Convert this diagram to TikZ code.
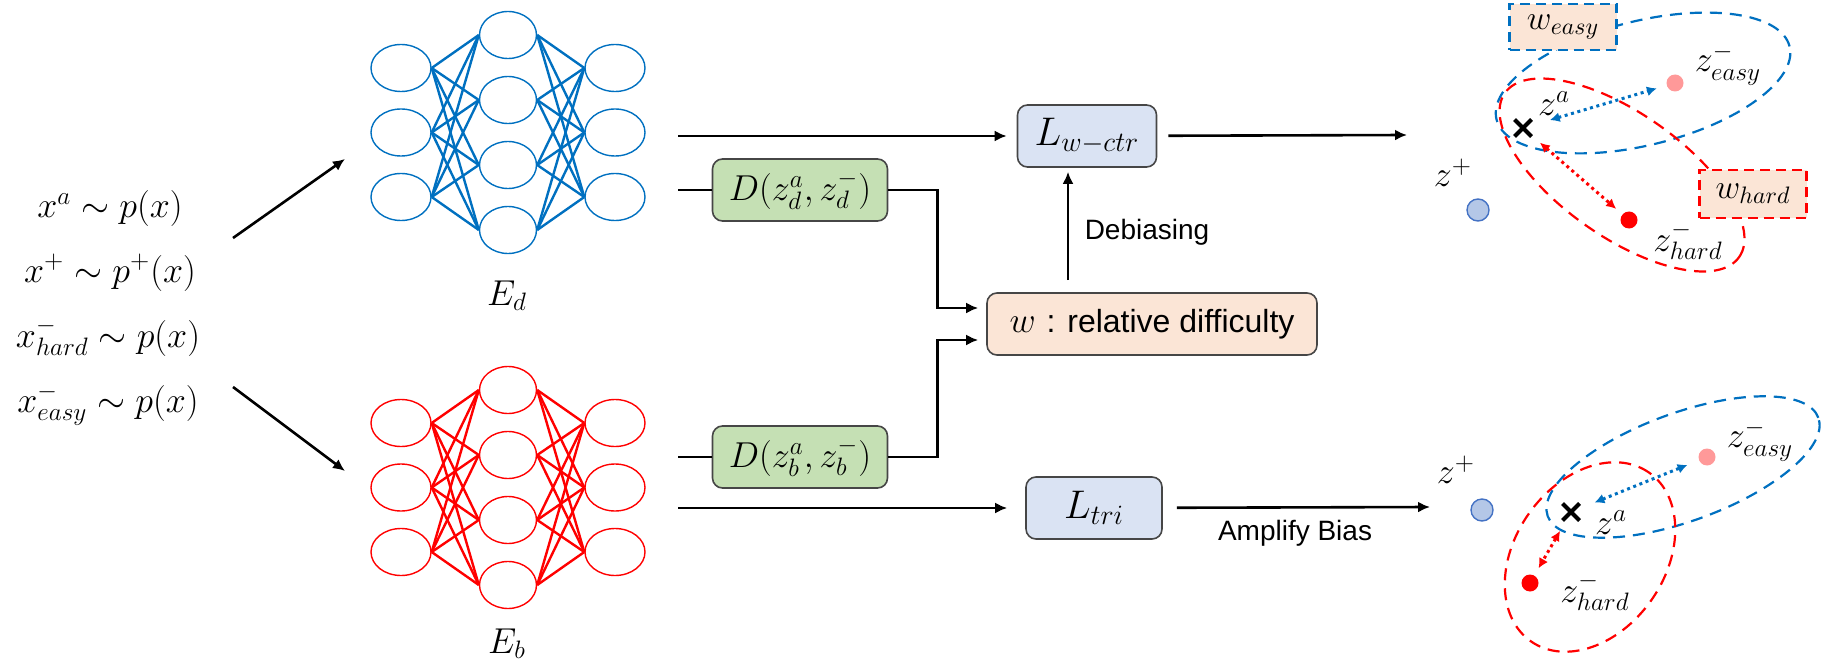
\RequirePackage{fix-cm}
\documentclass[tikz,border=0pt]{standalone}
\usepackage{fontspec}
\newfontfamily\arialfont{Liberation Sans}
\usepackage{tikz}
\usetikzlibrary{arrows.meta,shapes.geometric,shapes.misc}

\definecolor{nnblue}{RGB}{0,112,192}
\definecolor{nnred}{RGB}{255,0,0}
\definecolor{boxline}{RGB}{70,70,70}
\definecolor{greenfill}{RGB}{197,224,180}
\definecolor{bluefill}{RGB}{218,227,243}
\definecolor{peachfill}{RGB}{251,229,214}
\definecolor{posfill}{RGB}{180,199,231}
\definecolor{posline}{RGB}{68,114,196}
\definecolor{easyfill}{RGB}{255,153,153}

\begin{document}
\begin{tikzpicture}[x=0.5pt, y=-0.5pt,
    every node/.style={font=\fontsize{18}{22}\selectfont},
    nnb/.style={ellipse, draw=nnblue, line width=0.7pt, minimum width=30pt, minimum height=23.5pt, inner sep=0pt},
    nnr/.style={nnb, draw=nnred},
    box/.style={rectangle, rounded corners=5pt, draw=boxline, line width=0.8pt, minimum height=31pt},
    conn/.style={line width=1.3pt, -{Latex[length=6pt,width=5.5pt]}},
    ringb/.style={draw=nnblue, line width=1.1pt, dash pattern=on 6pt off 4pt},
    ringr/.style={ringb, draw=nnred},
    wtag/.style={rectangle, fill=peachfill, line width=1.1pt, dash pattern=on 5pt off 3pt, minimum width=53.5pt, minimum height=23pt, font=\fontsize{17}{20}\selectfont},
    anchorx/.style={cross out, draw=black, line width=2pt, minimum size=6.5pt, inner sep=0pt},
    posdot/.style={circle, fill=posfill, draw=posline, line width=0.7pt, minimum size=11pt, inner sep=0pt},
    easydot/.style={circle, fill=easyfill, minimum size=8.5pt, inner sep=0pt},
    harddot/.style={circle, fill=nnred, minimum size=8.5pt, inner sep=0pt},
    pullb/.style={nnblue, line width=1.5pt, dash pattern=on 1.5pt off 1.8pt, {Latex[length=5pt,width=5pt]}-{Latex[length=5pt,width=5pt]}},
    pullr/.style={pullb, nnred}]
    \useasboundingbox (0,0) rectangle (1823,663);

    % Inputs
    \node[anchor=base] (xa) at (110,218) {$x^a\sim p(x)$};
    \node[anchor=base] (xp) at (110,282) {$x^+\sim p^+(x)$};
    \node[anchor=base] (xh) at (108,347) {$x^-_{hard}\sim p(x)$};
    \node[anchor=base] (xe) at (108,412) {$x^-_{easy}\sim p(x)$};
    \coordinate (split1) at (233,238);
    \coordinate (tod) at (345,159);
    \coordinate (split2) at (233,387);
    \coordinate (tob) at (345,471);
    \draw[conn] (split1) -- (tod);
    \draw[conn] (split2) -- (tob);

    % Encoder E_d
    \foreach \i/\y in {1/68,2/132.5,3/197} {
        \node[nnb] (bl\i) at (401,\y) {};
        \node[nnb] (br\i) at (615,\y) {};
    }
    \foreach \j/\y in {1/35,2/100,3/165,4/230}
        \node[nnb, minimum width=28.5pt] (bm\j) at (508,\y) {};
    \foreach \i in {1,2,3}
        \foreach \j in {1,...,4} {
            \draw[nnblue, line width=1.2pt] (bl\i.east) -- (bm\j.west);
            \draw[nnblue, line width=1.2pt] (bm\j.east) -- (br\i.west);
        }
    \node[anchor=base] (ed) at (507,305) {$E_d$};

    % Encoder E_b
    \foreach \i/\y in {1/423,2/487.5,3/552} {
        \node[nnr] (rl\i) at (401,\y) {};
        \node[nnr] (rr\i) at (615,\y) {};
    }
    \foreach \j/\y in {1/390,2/455,3/520,4/585}
        \node[nnr, minimum width=28.5pt] (rm\j) at (508,\y) {};
    \foreach \i in {1,2,3}
        \foreach \j in {1,...,4} {
            \draw[nnred, line width=1.2pt] (rl\i.east) -- (rm\j.west);
            \draw[nnred, line width=1.2pt] (rm\j.east) -- (rr\i.west);
        }
    \node[anchor=base] (eb) at (507,653) {$E_b$};

    % Boxes
    \node[box, fill=greenfill, minimum width=87.5pt] (dd) at (800,190) {$D(z_d^a,z_d^-)$};
    \node[box, fill=greenfill, minimum width=87.5pt] (db) at (800,457) {$D(z_b^a,z_b^-)$};
    \node[box, fill=bluefill, minimum width=69.5pt, font=\fontsize{20}{24}\selectfont] (lctr) at (1087,136) {$L_{w-ctr}$};
    \node[box, fill=bluefill, minimum width=68pt, font=\fontsize{20}{24}\selectfont] (ltri) at (1094,508) {$L_{tri}$};
    \node[box, fill=peachfill, minimum width=165pt] (wbox) at (1152,324) {$w$ {\arialfont\fontsize{16}{20}\selectfont : relative difficulty}};

    % Connectors
    \coordinate (od1) at (678,136);
    \coordinate (od2) at (678,190);
    \coordinate (ob1) at (678,457);
    \coordinate (ob2) at (678,508);
    \draw[conn, shorten >=5pt] (od1) -- (lctr);
    \draw[line width=1.3pt] (od2) -- (dd);
    \draw[line width=1.3pt] (ob1) -- (db);
    \draw[conn, shorten >=9pt] (ob2) -- (ltri);
    \draw[conn, shorten >=4pt] (dd.east) -- ++(49,0) |- ([yshift=8pt]wbox.west);
    \draw[conn, shorten >=4pt] (db.east) -- ++(49,0) |- ([yshift=-8pt]wbox.west);
    \coordinate (debx) at (1068,0);
    \draw[conn, shorten <=6pt, shorten >=2pt] (wbox.north -| debx) -- (lctr.south -| debx);
    \node[font=\arialfont\fontsize{14}{17}\selectfont] (debias) at (1147,232) {Debiasing};
    \coordinate (zin1) at (1407,135);
    \coordinate (zin2) at (1430,507);
    \draw[conn, shorten <=5.5pt] (lctr) -- (zin1);
    \draw[conn, shorten <=7pt] (ltri) -- (zin2);
    \node[font=\arialfont\fontsize{14}{17}\selectfont] (amplify) at (1295,533) {Amplify Bias};

    % Embedding space after debiasing
    \coordinate (ringe1) at (1643,83);
    \coordinate (ringh1) at (1622,175);
    \draw[ringb, rotate around={14:(ringe1)}] (ringe1) ellipse [x radius=75.5pt, y radius=31pt];
    \draw[ringr, rotate around={-35:(ringh1)}] (ringh1) ellipse [x radius=71.5pt, y radius=31pt];
    \node[wtag, draw=nnblue] (weasy) at (1563,27) {$w_{easy}$};
    \node[wtag, draw=nnred, minimum height=24pt] (whard) at (1753,194) {$w_{hard}$};
    \node[posdot] (zp1) at (1478,210) {};
    \node (zp1l) at (1453,173) {$z^+$};
    \node[anchorx] (za1) at (1523,128) {};
    \node (za1l) at (1554,104) {$z^a$};
    \node[easydot] (ze1) at (1675,83) {};
    \node (ze1l) at (1728,65) {$z^-_{easy}$};
    \node[harddot] (zh1) at (1629,220) {};
    \node (zh1l) at (1688,241) {$z^-_{hard}$};
    \draw[pullb, shorten <=9.5pt, shorten >=5pt] (za1) -- (ze1);
    \draw[pullr, shorten <=5.5pt, shorten >=4pt] (za1) -- (zh1);

    % Embedding space with amplified bias
    \coordinate (ringe2) at (1683,467);
    \coordinate (ringh2) at (1590,557);
    \draw[ringb, rotate around={20:(ringe2)}] (ringe2) ellipse [x radius=72pt, y radius=27pt];
    \draw[ringr, rotate around={55:(ringh2)}] (ringh2) ellipse [x radius=51.5pt, y radius=37.5pt];
    \node[posdot] (zp2) at (1482,510) {};
    \node (zp2l) at (1456,470) {$z^+$};
    \node[anchorx] (za2) at (1571,512) {};
    \node (za2l) at (1611,523) {$z^a$};
    \node[easydot] (ze2) at (1707,457) {};
    \node (ze2l) at (1760,441) {$z^-_{easy}$};
    \node[harddot] (zh2) at (1530,583) {};
    \node (zh2l) at (1595,592) {$z^-_{hard}$};
    \draw[pullb, shorten <=8pt, shorten >=6pt] (za2) -- (ze2);
    \draw[pullr, shorten <=6pt, shorten >=4pt] (za2) -- (zh2);
\end{tikzpicture}
\end{document}
